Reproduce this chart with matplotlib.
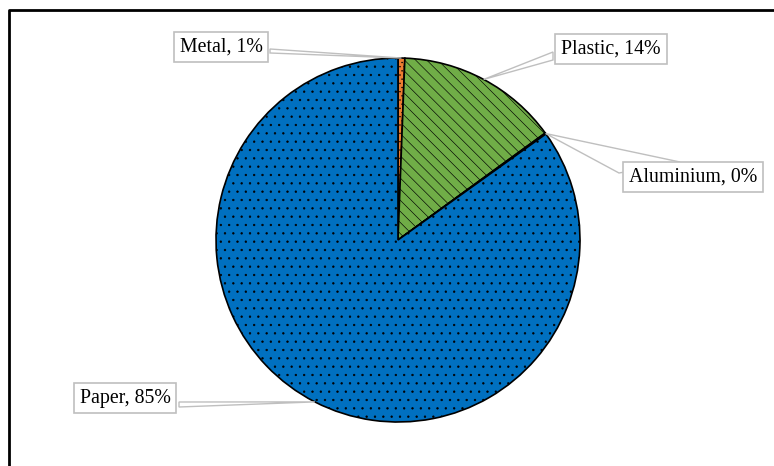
import numpy as np
import matplotlib
matplotlib.use("Agg")
import matplotlib.pyplot as plt
from matplotlib.patches import Polygon

# data (clockwise from 12 o'clock)
materials = ['Metal', 'Plastic', 'Aluminium', 'Paper']
shares = [0.6, 14.4, 0.1, 84.9]
colors = ['#ED7D31', '#70AD47', '#4472C4', '#0070C0']
hatches = ['....', '\\\\\\', '', '..']

W, H = 774, 466
plt.rcParams['font.family'] = ['Liberation Serif', 'DejaVu Serif']
plt.rcParams['hatch.linewidth'] = 0.45

fig = plt.figure(figsize=(W / 100, H / 100), dpi=100)
ax = fig.add_axes([0, 0, 1, 1])

def px(x, y):
    # image pixel -> data coords
    return (x, H - y)

center = px(398, 240)
radius = 182
wedges, _ = ax.pie(shares, colors=colors, startangle=90, counterclock=False,
                   center=center, radius=radius, frame=True,
                   wedgeprops=dict(edgecolor='black', linewidth=1.2))
for w, h in zip(wedges, hatches):
    w.set_hatch(h)
ax.set_xlim(0, W)
ax.set_ylim(0, H)
ax.axis('off')

# label boxes: text centre and the two points on the box where the leader starts
label_pos = [(221, 47), (611, 49), (693, 177), (125, 398)]
leader_from = [[(270, 49), (270, 53)],
               [(553, 52), (553, 60)],
               [(680, 162), (619, 173)],
               [(179, 402), (179, 407)]]

for w, name, val, pos, lf in zip(wedges, materials, shares, label_pos, leader_from):
    mid = np.deg2rad((w.theta1 + w.theta2) / 2)
    tip = (w.center[0] + w.r * np.cos(mid), w.center[1] + w.r * np.sin(mid))
    pts = [px(*lf[0]), tip, px(*lf[1])]
    ax.add_patch(Polygon(pts, closed=True, facecolor='white', edgecolor='#BFBFBF',
                         linewidth=1, zorder=3))
    ax.text(*px(*pos), '{}, {:.0f}%'.format(name, val), ha='center', va='center',
            fontsize=14.3, color='black', zorder=4,
            bbox=dict(boxstyle='square,pad=0.3', facecolor='white',
                      edgecolor='#BFBFBF', linewidth=1.2))

# outer frame (top and left edges visible)
ax.plot([9, 9, W], [0, H - 10, H - 10], color='black', linewidth=2, clip_on=False)

fig.savefig('out.png', dpi=100)
